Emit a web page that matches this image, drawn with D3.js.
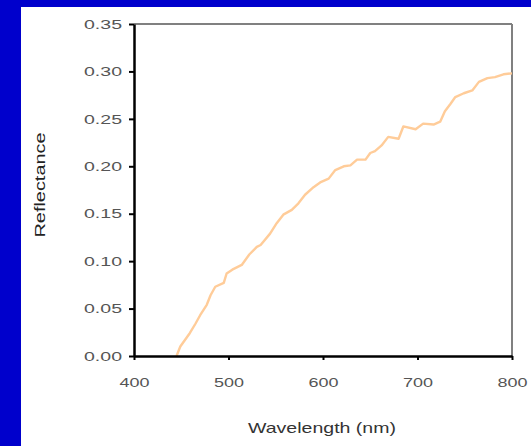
<!DOCTYPE html>
<html><head><meta charset="utf-8">
<script src="https://cdn.jsdelivr.net/npm/d3@7"></script>
<style>html,body{margin:0;padding:0;background:#0000CC;overflow:hidden}</style>
</head><body>
<script>
const wavelength = [445,449,459,465,470,477,481,486,495,498,504,514,522,530,534,544,551,558,567,574,581,590,597,606,613,622,629,636,645,650,655,662,669,680,685,698,706,717,724,729,735,740,749,758,765,774,782,791,800];
const reflectance = [0.000,0.010,0.024,0.034,0.043,0.054,0.064,0.073,0.077,0.087,0.091,0.096,0.107,0.115,0.117,0.129,0.140,0.149,0.154,0.161,0.170,0.178,0.183,0.187,0.196,0.200,0.201,0.207,0.207,0.214,0.216,0.222,0.231,0.229,0.242,0.239,0.245,0.244,0.247,0.258,0.266,0.273,0.277,0.280,0.289,0.293,0.294,0.297,0.298];
const xTicks = [400,500,600,700,800];
const yTicks = [0,0.05,0.10,0.15,0.20,0.25,0.30,0.35];

const W = 531, H = 446;
const svg = d3.select("body").append("svg").attr("width", W).attr("height", H);
svg.append("rect").attr("x",0).attr("y",0).attr("width",W).attr("height",H).attr("fill","#0000CC");
svg.append("rect").attr("x",21).attr("y",7).attr("width",W-21).attr("height",H-7).attr("fill","#ffffff");

const L = 134, R = 512, T = 24, B = 356;
const x = d3.scaleLinear().domain([400,800]).range([L,R]);
const y = d3.scaleLinear().domain([0,0.35]).range([B,T]);

// top & right frame (gray)
svg.append("line").attr("x1",L).attr("x2",R).attr("y1",T).attr("y2",T).attr("stroke","#808080").attr("stroke-width",2);
svg.append("line").attr("x1",R).attr("x2",R).attr("y1",T).attr("y2",B).attr("stroke","#808080").attr("stroke-width",2);

// curve
const line = d3.line().x((d,i)=>x(wavelength[i])).y((d,i)=>y(reflectance[i]));
svg.append("path").datum(reflectance).attr("d",line).attr("fill","none")
  .attr("stroke","#FFCC99").attr("stroke-width",2.4).attr("stroke-linejoin","round");

// axes
const gx = svg.append("g").attr("transform",`translate(0,${B})`)
  .call(d3.axisBottom(x).tickValues(xTicks).tickSize(4).tickSizeOuter(0).tickFormat(d3.format("d")));
const gy = svg.append("g").attr("transform",`translate(${L},0)`)
  .call(d3.axisLeft(y).tickValues(yTicks).tickSize(5).tickSizeOuter(0).tickFormat(d3.format(".2f")));
[gx,gy].forEach(g=>{
  g.select(".domain").attr("stroke","#000").attr("stroke-width",2.5);
  g.selectAll(".tick line").attr("stroke","#000").attr("stroke-width",2);
  g.selectAll(".tick text").attr("fill","#555").style("font-family","Liberation Sans, Arial, sans-serif")
    .style("font-size","12px");
});
gx.selectAll(".tick text").attr("dy",null).attr("y",31).attr("textLength",30).attr("lengthAdjust","spacingAndGlyphs");
gy.selectAll(".tick text").attr("x",-12).attr("dy","0.35em").attr("textLength",38).attr("lengthAdjust","spacingAndGlyphs");

// titles
svg.append("text").attr("x",322).attr("y",433).attr("text-anchor","middle")
  .style("font-family","Liberation Sans, Arial, sans-serif").style("font-size","15px").attr("fill","#333")
  .attr("textLength",148).attr("lengthAdjust","spacingAndGlyphs").text("Wavelength (nm)");
svg.append("text").attr("transform","translate(45,185) rotate(-90)").attr("text-anchor","middle")
  .style("font-family","Liberation Sans, Arial, sans-serif").style("font-size","15px").attr("fill","#222")
  .attr("textLength",105).attr("lengthAdjust","spacingAndGlyphs").text("Reflectance");
</script>
</body></html>
